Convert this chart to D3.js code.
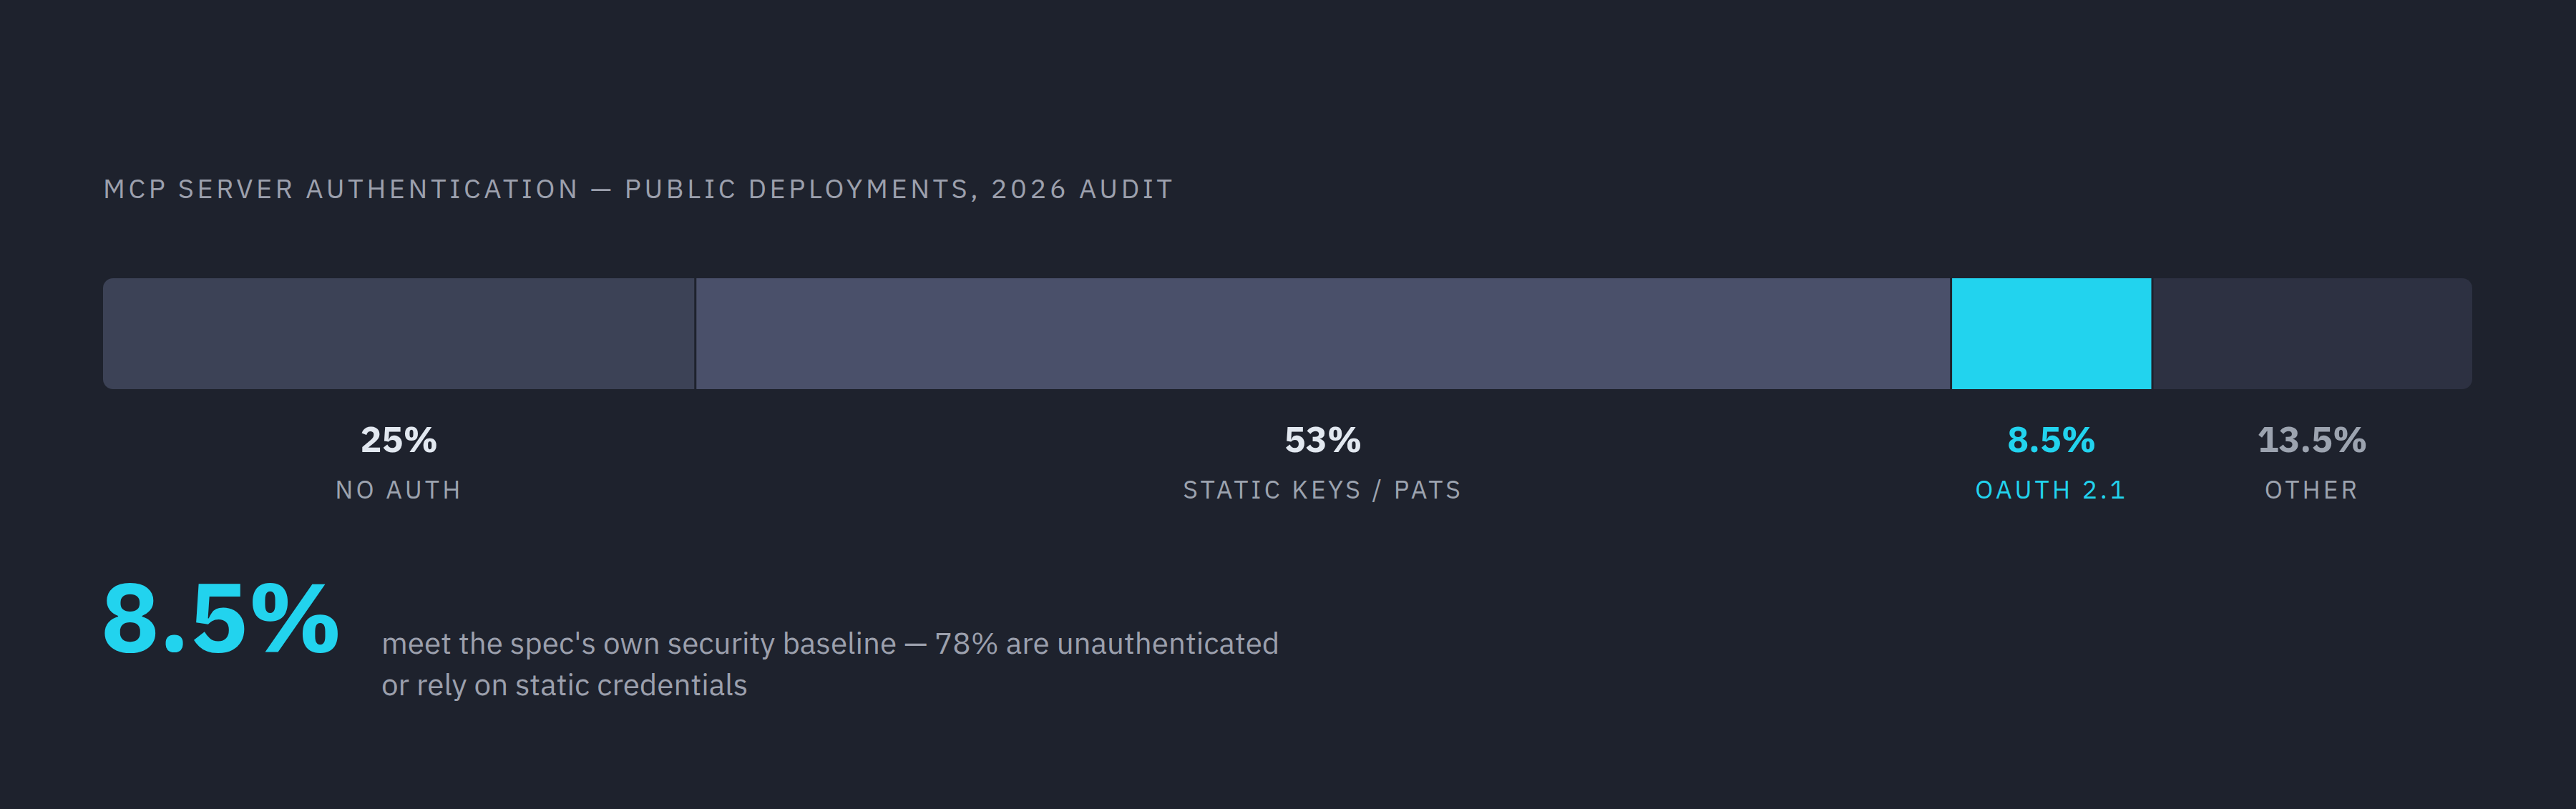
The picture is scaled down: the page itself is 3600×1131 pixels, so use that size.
<!DOCTYPE html>
<html>
<head>
    <meta charset="utf-8">
    <title>MCP server authentication</title>
    <style>
      html, body { margin: 0; padding: 0; background: #1e222d; }
      svg { display: block; }
      text { font-family: "IBM Plex Sans", Inter, "Noto Sans", sans-serif; }
    </style>
</head>
<body>
<div id="chart"></div>
<script src="https://cdn.jsdelivr.net/npm/d3@7"></script>
<script>

    // data
    let categories = ['NO AUTH', 'STATIC KEYS / PATS', 'OAUTH 2.1', 'OTHER'];
    let shares = [25, 53, 8.5, 13.5];
    let valueLabels = ['25%', '53%', '8.5%', '13.5%'];
    let headline = '8.5%';
    let titleText = 'MCP SERVER AUTHENTICATION \u2014 PUBLIC DEPLOYMENTS, 2026 AUDIT';
    let noteLines = ["meet the spec's own security baseline \u2014 78% are unauthenticated",
                     'or rely on static credentials'];

    // styles
    let segFill = ['#3c4256', '#4a506a', '#22d3ee', '#2d3142'];
    let valueFill = ['#e2e8f0', '#e2e8f0', '#22d3ee', '#9ca3af'];
    let catFill = ['#9ca3af', '#9ca3af', '#22d3ee', '#9ca3af'];
    let bg = '#1e222d';

    function translate(x, y) {
      return 'translate(' + x + ', ' + y + ')';
    }

    let svgWidth = 3600;
    let svgHeight = 1131;
    let bar = {left: 144, right: 3455, top: 389, height: 155, r: 14};

    let svg = d3.select('#chart')
      .append('svg')
        .attr('width', svgWidth)
        .attr('height', svgHeight);

    svg.append('rect')
      .attr('width', svgWidth)
      .attr('height', svgHeight)
      .attr('fill', bg);

    // title
    svg.append('text')
      .attr('x', 144)
      .attr('y', 277)
      .attr('font-size', 38)
      .attr('letter-spacing', 4.6)
      .attr('fill', '#9ca0ad')
      .text(titleText);

    // cumulative positions
    let starts = [];
    let acc = 0;
    shares.forEach(function(s){ starts.push(acc); acc += s; });
    let segs = categories.map(function(c, i){
      return {cat: c, share: shares[i], start: starts[i], label: valueLabels[i], i: i};
    });

    let x = d3.scaleLinear()
      .domain([0, d3.sum(shares)])
      .range([bar.left, bar.right]);

    svg.append('clipPath')
      .attr('id', 'bar-clip')
      .append('rect')
        .attr('x', bar.left)
        .attr('y', bar.top)
        .attr('width', bar.right - bar.left)
        .attr('height', bar.height)
        .attr('rx', bar.r);

    let g = svg.append('g').attr('clip-path', 'url(#bar-clip)');

    g.selectAll('rect.seg')
      .data(segs)
      .enter()
      .append('rect')
        .attr('class', 'seg')
        .attr('x', d => x(d.start))
        .attr('y', bar.top)
        .attr('width', d => x(d.start + d.share) - x(d.start))
        .attr('height', bar.height)
        .attr('fill', d => segFill[d.i]);

    // thin dividers between segments
    g.selectAll('line.div')
      .data(segs.slice(1))
      .enter()
      .append('line')
        .attr('x1', d => x(d.start))
        .attr('x2', d => x(d.start))
        .attr('y1', bar.top)
        .attr('y2', bar.top + bar.height)
        .attr('stroke', bg)
        .attr('stroke-width', 3);

    let labels = svg.selectAll('g.label')
      .data(segs)
      .enter()
      .append('g')
        .attr('class', 'label')
        .attr('transform', d => translate(x(d.start + d.share / 2), 0));

    labels.append('text')
      .attr('y', 632)
      .attr('text-anchor', 'middle')
      .attr('font-size', 50)
      .attr('font-weight', 700)
      .attr('fill', d => valueFill[d.i])
      .text(d => d.label);

    labels.append('text')
      .attr('y', 697)
      .attr('text-anchor', 'middle')
      .attr('font-size', 35.5)
      .attr('letter-spacing', 4.1)
      .attr('fill', d => catFill[d.i])
      .text(d => d.cat);

    // headline number
    svg.append('text')
      .attr('x', 141)
      .attr('y', 911)
      .attr('font-size', 136)
      .attr('font-weight', 700)
      .attr('fill', '#22d3ee')
      .text(headline);

    svg.selectAll('text.note')
      .data(noteLines)
      .enter()
      .append('text')
        .attr('class', 'note')
        .attr('x', 533)
        .attr('y', (d, i) => 914 + i * 58)
        .attr('font-size', 42.2)
        .attr('fill', '#9ca0ad')
        .text(d => d);

</script>
</body>
</html>
